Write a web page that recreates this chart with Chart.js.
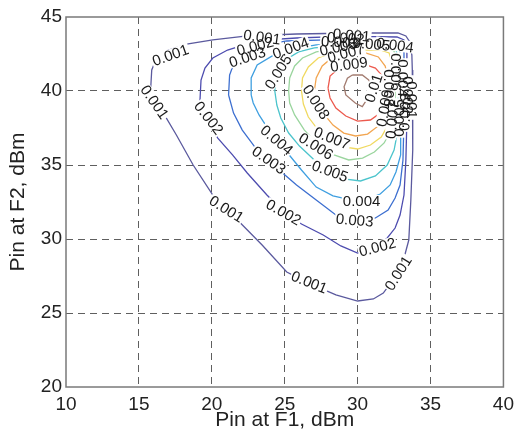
<!DOCTYPE html>
<html>
<head>
<meta charset="utf-8">
<script src="https://cdn.jsdelivr.net/npm/chart.js@4.4.0/dist/chart.umd.min.js"></script>
<style>
  html, body { margin: 0; padding: 0; background: #fff; }
  #wrap { width: 520px; height: 437px; }
</style>
</head>
<body>
<div id="wrap"><canvas id="contourChart" width="520" height="437"></canvas></div>
<script>
// contour levels and their polylines, [Pin F1 dBm, Pin F2 dBm]
const levels = [0.001, 0.002, 0.003, 0.004, 0.005, 0.006, 0.007, 0.008, 0.009, 0.010];

const c001 = [[15.81,40.20],[15.88,41.42],[16.22,42.23],[17.03,42.77],[18.38,43.18],[20.07,43.45],[22.43,43.72],[25.81,43.85],[29.86,43.92],[32.77,43.92],[33.31,43.72],[33.58,43.31],[33.72,42.43],[33.75,41.42],[33.78,38.72],[33.78,36.01],[33.65,32.64],[33.51,29.93],[33.11,28.45],[32.43,27.23],[31.76,26.35],[31.08,25.95],[30.0,25.81],[28.51,26.22],[26.49,27.09],[25.14,27.77],[23.45,29.59],[21.76,31.28],[20.07,32.97],[18.72,35.0],[17.57,37.03],[16.55,38.72],[16.01,39.73],[15.81,40.20]];
const c002 = [[19.19,39.39],[19.26,40.74],[19.53,41.55],[20.07,42.23],[21.08,42.77],[22.43,43.18],[23.78,43.45],[25.81,43.58],[28.51,43.68],[31.22,43.68],[32.70,43.65],[33.18,43.45],[33.38,42.97],[33.38,40.74],[33.38,38.04],[33.31,35.34],[33.18,32.97],[32.91,31.62],[32.57,30.74],[32.03,30.07],[31.22,29.46],[30.0,29.05],[28.85,29.53],[27.64,30.27],[26.15,31.01],[24.80,31.96],[23.78,32.97],[22.43,34.46],[21.42,35.68],[20.41,36.82],[19.73,37.91],[19.32,38.72],[19.19,39.39]];
const c003 = [[21.15,39.73],[21.22,41.08],[21.55,41.96],[22.43,42.64],[23.58,43.11],[25.14,43.38],[27.84,43.45],[30.54,43.48],[32.57,43.45],[32.97,43.24],[33.18,42.77],[33.18,40.74],[33.18,38.04],[33.11,35.34],[32.91,33.65],[32.57,32.77],[32.09,31.96],[31.22,31.42],[30.0,31.15],[28.51,31.62],[27.16,32.64],[25.81,33.65],[24.46,34.80],[23.11,36.01],[22.09,37.36],[21.49,38.51],[21.15,39.73]];
const c004 = [[22.70,39.73],[22.70,40.88],[23.11,41.76],[24.12,42.36],[25.14,42.77],[27.16,43.11],[29.86,43.18],[32.23,43.18],[32.77,42.97],[32.97,42.43],[32.97,40.07],[32.97,37.36],[32.91,35.68],[32.63,34.53],[32.23,33.65],[31.55,33.04],[30.54,32.64],[29.53,32.64],[28.31,32.91],[27.16,33.51],[26.15,34.66],[25.14,35.88],[24.12,37.03],[23.24,38.38],[22.84,39.19],[22.70,39.73]];
const c005 = [[24.32,40.0],[24.35,40.74],[24.60,41.55],[25.27,42.23],[25.95,42.64],[27.03,42.91],[28.51,43.04],[30.54,43.04],[32.16,43.04],[32.63,42.80],[32.77,42.23],[32.77,40.74],[32.77,38.72],[32.70,37.03],[32.50,36.01],[32.03,35.0],[31.22,34.26],[30.20,33.92],[29.19,34.05],[28.04,34.53],[27.03,35.34],[26.01,36.28],[25.27,37.16],[24.73,38.18],[24.46,39.05],[24.32,40.0]];
const c006 = [[25.27,40.0],[25.34,40.88],[25.68,41.69],[26.22,42.23],[27.16,42.64],[28.51,42.84],[30.54,42.91],[32.09,42.91],[32.50,42.70],[32.57,42.09],[32.57,40.0],[32.57,38.38],[32.30,37.36],[31.82,36.49],[31.15,35.88],[30.34,35.47],[29.39,35.34],[28.38,35.68],[27.30,36.35],[26.35,37.36],[25.68,38.38],[25.34,39.19],[25.27,40.0]];
const c007 = [[26.15,40.0],[26.22,40.88],[26.62,41.62],[27.30,42.23],[28.38,42.64],[29.86,42.77],[31.55,42.77],[32.16,42.57],[32.36,41.96],[32.36,40.07],[32.36,38.72],[32.09,37.70],[31.62,36.89],[30.88,36.35],[30.0,36.08],[29.05,36.22],[28.18,36.69],[27.30,37.36],[26.62,38.24],[26.28,39.12],[26.15,40.0]];
const c008 = [[27.03,40.0],[27.16,40.88],[27.57,41.69],[28.31,42.30],[29.32,42.57],[30.54,42.57],[31.42,42.30],[31.89,41.69],[32.09,40.74],[32.09,39.39],[31.89,38.38],[31.42,37.64],[30.68,37.09],[29.86,36.96],[29.05,37.16],[28.31,37.70],[27.64,38.51],[27.23,39.26],[27.03,40.0]];
const c009 = [[27.97,40.20],[28.11,41.01],[28.72,41.55],[29.53,41.82],[30.41,41.82],[31.22,41.55],[31.76,40.95],[31.96,40.07],[31.89,39.19],[31.55,38.51],[30.88,38.04],[30.0,37.97],[29.19,38.31],[28.51,38.85],[28.11,39.53],[27.97,40.20]];
const c010 = [[29.64,41.08],[29.30,40.86],[29.07,40.29],[29.19,39.73],[29.86,39.17],[30.32,38.94],[30.54,39.28],[30.76,39.73],[30.99,40.41],[30.76,40.74],[30.32,41.08],[29.64,41.08]];

const contourLines = [c001, c002, c003, c004, c005, c006, c007, c008, c009, c010];

// inline level labels (clabel style): text, position in dBm, rotation in degrees
const labelText  = ['0.001','0.001','0.002','0.001','0.002','0.001','0.002','0.001','0.003','0.004',
                    '0.003','0.004','0.005','0.006','0.007','0.008','0.009','0.005','0.001','0.002',
                    '0.003','0.004','0.001','0.002','0.003','0.006','0.007','0.005','0.004','0.01',
                    '0.009','0.008','0.007','0.006','0.005','0.004','0.003','0.002','0.001'];
const labelX     = [17.16,16.08,19.80,21.01,24.93,26.69,31.35,32.77,23.92,24.46,
                    29.80,30.27,28.11,27.16,28.24,27.16,29.40,24.55,23.45,22.97,
                    22.43,25.41,29.59,29.19,28.78,28.65,29.19,30.95,32.57,31.08,
                    31.82,32.16,32.36,32.63,32.84,33.11,33.24,33.45,33.72];
const labelY     = [42.43,39.26,38.18,32.03,31.82,27.09,29.46,27.70,35.34,36.69,
                    31.28,32.57,34.59,36.28,36.82,39.26,41.80,41.30,43.65,43.04,
                    42.30,42.91,43.78,43.58,43.31,42.97,42.57,43.18,43.11,40.20,
                    38.85,40.20,38.04,41.28,38.18,40.88,38.58,39.73,39.39];
const labelAngle = [-20,55,52,32,30,22,-15,-58,35,40,
                    5,0,20,32,22,58,-8,-58,8,-15,
                    -18,-20,5,3,3,-12,-15,5,8,-72,
                    -80,90,-85,90,-90,90,-88,90,90];

const xTicks = [10, 15, 20, 25, 30, 35, 40];
const yTicks = [20, 25, 30, 35, 40, 45];

const lineColors = ['#5b5a9e','#4d4caf','#3d6fd0','#3f9fe0','#4cc4cc','#9ad59e','#f0d960','#f2a550','#ec5a4e','#a37c70'];
const fontFamily = '"Liberation Sans", Arial, Helvetica, sans-serif';

const datasets = contourLines.map((pts, i) => ({
    label: String(levels[i]),
    data: pts.map(p => ({ x: p[0], y: p[1] })),
    showLine: true,
    borderColor: lineColors[i],
    borderWidth: 1.3,
    pointRadius: 0,
    tension: 0,
    fill: false
}));

// labels sit in small white gaps cut into the lines, then the frame goes on top
const contourLabels = {
    id: 'contourLabels',
    afterDatasetsDraw(chart) {
        const { ctx, chartArea: a, scales: { x, y } } = chart;
        ctx.save();
        ctx.beginPath();
        ctx.rect(a.left, a.top, a.right - a.left, a.bottom - a.top);
        ctx.clip();
        ctx.font = '15px ' + fontFamily;
        ctx.textAlign = 'center';
        ctx.textBaseline = 'middle';
        const place = (i) => {
            ctx.translate(x.getPixelForValue(labelX[i]), y.getPixelForValue(labelY[i]));
            ctx.rotate(labelAngle[i] * Math.PI / 180);
        };
        labelText.forEach((t, i) => {
            const w = ctx.measureText(t).width + 2;
            ctx.save();
            place(i);
            ctx.fillStyle = '#ffffff';
            ctx.fillRect(-w / 2, -6, w, 12);
            ctx.restore();
        });
        labelText.forEach((t, i) => {
            ctx.save();
            place(i);
            ctx.fillStyle = '#1a1a1a';
            ctx.fillText(t, 0, 1);
            ctx.restore();
        });
        ctx.restore();

        ctx.save();
        ctx.strokeStyle = '#7a7a7a';
        ctx.lineWidth = 1.5;
        ctx.strokeRect(a.left, a.top, a.right - a.left, a.bottom - a.top);
        ctx.restore();
    }
};

const gridColor = (c) => (c.tick && (c.tick.value === c.scale.min || c.tick.value === c.scale.max)) ? 'rgba(0,0,0,0)' : '#5f5f5f';

new Chart(document.getElementById('contourChart'), {
    type: 'scatter',
    data: { datasets },
    options: {
        responsive: false,
        animation: false,
        layout: { padding: { top: 17, right: 10, left: 0, bottom: 0 } },
        plugins: { legend: { display: false }, tooltip: { enabled: false } },
        scales: {
            x: {
                type: 'linear',
                min: 10, max: 40,
                afterBuildTicks: (s) => { s.ticks = xTicks.map(v => ({ value: v })); },
                afterFit: (s) => { s.height = 50; },
                grid: { color: gridColor, lineWidth: 1, drawTicks: false },
                border: { display: false, dash: [7, 5] },
                ticks: { padding: 6, color: '#222', font: { family: fontFamily, size: 19 } },
                title: { display: true, text: 'Pin at F1, dBm', color: '#222', padding: { top: 0, bottom: 4 }, font: { family: fontFamily, size: 21 } }
            },
            y: {
                type: 'linear',
                min: 20, max: 45,
                afterBuildTicks: (s) => { s.ticks = yTicks.map(v => ({ value: v })); },
                afterFit: (s) => { s.width = 66; },
                grid: { color: gridColor, lineWidth: 1, drawTicks: false },
                border: { display: false, dash: [7, 5] },
                ticks: { padding: 4, color: '#222', font: { family: fontFamily, size: 19 } },
                title: { display: true, text: 'Pin at F2, dBm', color: '#222', padding: { top: 6, bottom: 0 }, font: { family: fontFamily, size: 21 } }
            }
        }
    },
    plugins: [contourLabels]
});
</script>
</body>
</html>
